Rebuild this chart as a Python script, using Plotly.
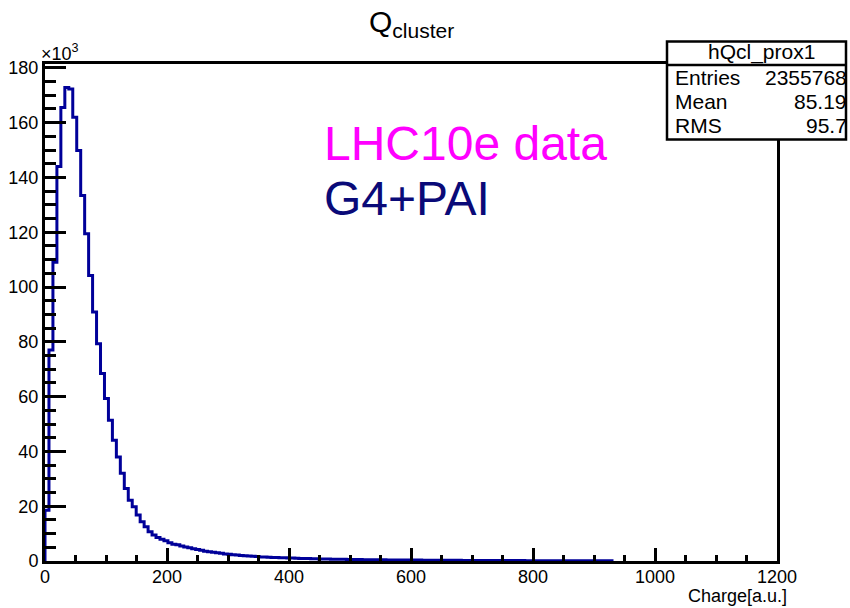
import plotly.graph_objects as go

# ---------------- data (counts in units of 10^3) ----------------
bin_width = 6.5
counts_k = [
    18.5, 77.0, 109.0, 144.0, 165.5, 172.8, 172.3, 162.0, 149.8, 133.4,
    119.4, 104.2, 90.9, 79.3, 68.4, 59.3, 51.4, 44.1, 38.0, 32.0,
    26.5, 22.2, 19.8, 16.8, 14.3, 12.5, 10.7, 9.5, 8.6, 7.9,
    7.4, 6.7, 6.1, 5.9, 5.5, 5.1, 4.8, 4.5, 4.2, 3.9,
    3.6, 3.4, 3.2, 3.0, 2.8, 2.6, 2.45, 2.3, 2.15, 2.0,
    1.9, 1.8, 1.7, 1.6, 1.5, 1.45, 1.4, 1.3, 1.25, 1.2,
    1.15, 1.1, 1.05, 1.0, 0.95, 0.9, 0.87, 0.83, 0.8, 0.76,
    0.72, 0.70, 0.67, 0.65, 0.62, 0.60, 0.58, 0.56, 0.54, 0.52,
    0.50, 0.48, 0.47, 0.45, 0.44, 0.42, 0.41, 0.40, 0.38, 0.37,
    0.36, 0.35, 0.34, 0.33, 0.32, 0.31, 0.30, 0.29, 0.28, 0.27,
    0.26, 0.25, 0.25, 0.24, 0.23, 0.22, 0.22, 0.21, 0.20, 0.20,
    0.19, 0.18, 0.18, 0.17, 0.17, 0.16, 0.16, 0.15, 0.15, 0.14,
    0.14, 0.13, 0.13, 0.12, 0.12, 0.12, 0.11, 0.11, 0.10, 0.10,
    0.10, 0.09, 0.09, 0.09, 0.08, 0.08, 0.08, 0.07, 0.07, 0.07,
    0.06, 0.06, 0.05,
]
x_ticks = [0, 200, 400, 600, 800, 1000, 1200]
x_tick_labels = ["0", "200", "400", "600", "800", "1000", "1200"]
y_ticks = [0, 20, 40, 60, 80, 100, 120, 140, 160, 180]
y_tick_labels = ["0", "20", "40", "60", "80", "100", "120", "140", "160", "180"]

stats_title = "hQcl_prox1"
stats_names = ["Entries", "Mean", "RMS"]
stats_values = ["2355768", "85.19", "95.7"]

# step outline of the histogram
edges = [i * bin_width for i in range(len(counts_k) + 1)]
xs = [edges[0]] + edges
ys = [0] + counts_k + [0]

FONT = "Liberation Sans, Arial, Helvetica, sans-serif"

fig = go.Figure()
fig.add_trace(go.Scatter(
    x=xs, y=ys, mode="lines", line=dict(color="#000099", width=3, shape="hv"),
    hoverinfo="skip", showlegend=False,
))

W, H = 850, 608
L, R, T, B = 45, 73, 64, 47
pw, ph = W - L - R, H - T - B

def px_x(p):
    return (p - L) / pw

def px_y(p):
    return (H - B - p) / ph

fig.update_layout(
    width=W, height=H,
    margin=dict(l=L, r=R, t=T, b=B, pad=0),
    paper_bgcolor="white", plot_bgcolor="white",
    font=dict(family=FONT, color="black", size=18),
    showlegend=False,
)
fig.update_xaxes(
    range=[0, 1200], tickvals=x_ticks, ticktext=x_tick_labels,
    ticks="inside", ticklen=13, tickwidth=2.5, tickcolor="black",
    showline=True, linewidth=3, linecolor="black", mirror=True,
    showgrid=False, zeroline=False, automargin=False,
    minor=dict(ticks="inside", ticklen=6, tickwidth=2.5, tickcolor="black", dtick=50, showgrid=False),
    tickfont=dict(size=18, family=FONT), ticklabelstandoff=-3,
)
fig.update_yaxes(
    range=[0, 181.4], tickvals=y_ticks, ticktext=y_tick_labels,
    ticks="inside", ticklen=21, tickwidth=2.5, tickcolor="black",
    showline=True, linewidth=3, linecolor="black", mirror=True,
    showgrid=False, zeroline=False, automargin=False,
    minor=dict(ticks="inside", ticklen=11, tickwidth=2.5, tickcolor="black", dtick=5, showgrid=False),
    tickfont=dict(size=18, family=FONT),
)

ann = []
# title
ann.append(dict(text="Q<sub>cluster</sub>", x=px_x(411), y=px_y(23), xref="paper", yref="paper",
                xanchor="center", yanchor="middle", showarrow=False,
                font=dict(size=30, family=FONT, color="black")))
# x10^3
ann.append(dict(text="×10<sup>3</sup>", x=px_x(39), y=px_y(53), xref="paper", yref="paper",
                xanchor="left", yanchor="middle", showarrow=False,
                font=dict(size=18, family=FONT, color="black")))
# x-axis title
ann.append(dict(text="Charge[a.u.]", x=px_x(789), y=px_y(596), xref="paper", yref="paper",
                xanchor="right", yanchor="middle", showarrow=False,
                font=dict(size=18, family=FONT, color="black")))
# texts
ann.append(dict(text="LHC10e data", x=px_x(322), y=px_y(143), xref="paper", yref="paper",
                xanchor="left", yanchor="middle", showarrow=False,
                font=dict(size=48, family=FONT, color="#FF00FF")))
ann.append(dict(text="G4+PAI", x=px_x(322), y=px_y(198), xref="paper", yref="paper",
                xanchor="left", yanchor="middle", showarrow=False,
                font=dict(size=48, family=FONT, color="#0A0A78")))
# stats box texts
ann.append(dict(text=stats_title, x=px_x(761), y=px_y(52), xref="paper", yref="paper",
                xanchor="center", yanchor="middle", showarrow=False,
                font=dict(size=21, family=FONT, color="black")))
row_y = [78, 101.5, 125]
for name, val, yy in zip(stats_names, stats_values, row_y):
    ann.append(dict(text=name, x=px_x(673), y=px_y(yy), xref="paper", yref="paper",
                    xanchor="left", yanchor="middle", showarrow=False,
                    font=dict(size=21, family=FONT, color="black")))
    ann.append(dict(text=val, x=px_x(849), y=px_y(yy), xref="paper", yref="paper",
                    xanchor="right", yanchor="middle", showarrow=False,
                    font=dict(size=21, family=FONT, color="black")))
fig.update_layout(annotations=ann)

shapes = [
    dict(type="rect", xref="paper", yref="paper", x0=px_x(667), x1=px_x(846),
         y0=px_y(41.5), y1=px_y(139.5), line=dict(color="black", width=2.5),
         fillcolor="white", layer="above"),
    dict(type="line", xref="paper", yref="paper", x0=px_x(667), x1=px_x(846),
         y0=px_y(65), y1=px_y(65), line=dict(color="black", width=2.5), layer="above"),
]
fig.update_layout(shapes=shapes)

fig.write_html("out.html")
